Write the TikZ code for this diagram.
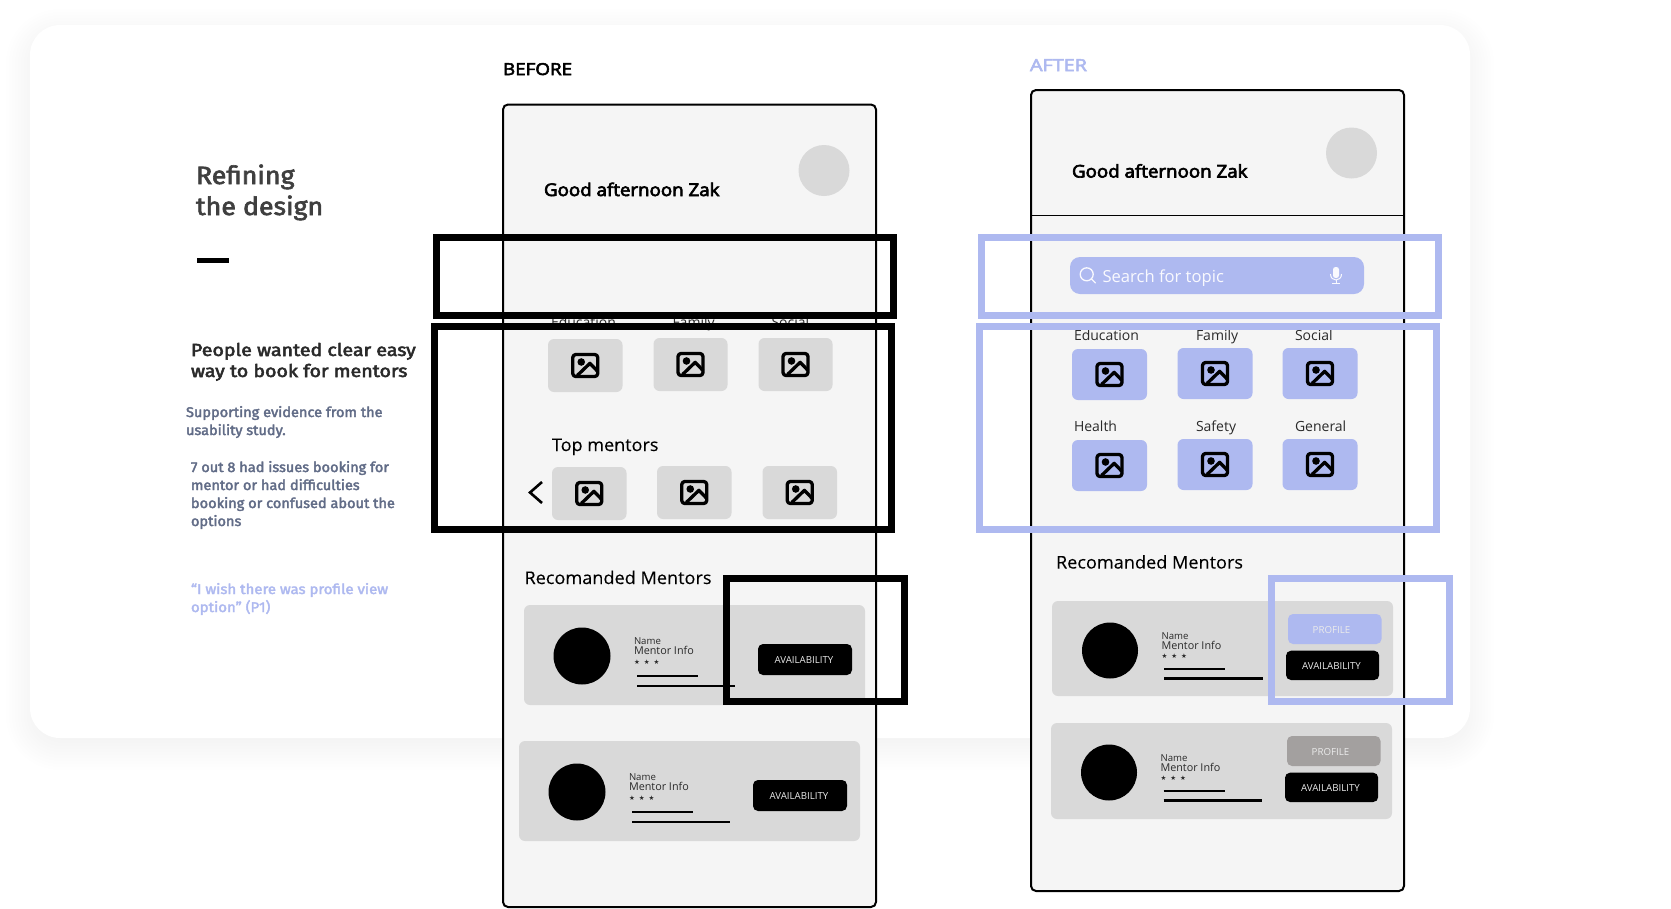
\documentclass[tikz,border=0pt]{standalone}
\usepackage{fontspec}
\setmainfont{Open Sans}
\newfontfamily\leftfont{Fira Sans}
\newfontfamily\starfont{DejaVu Sans}
\definecolor{phonebg}{HTML}{F5F5F5}
\definecolor{tilegrey}{HTML}{D9D9D9}
\definecolor{periw}{HTML}{AEB9F0}
\definecolor{slate}{HTML}{616C87}
\definecolor{profgrey}{HTML}{A3A09F}
\definecolor{inkdark}{HTML}{2A2A2A}
% width factor, outline weight, text
\newcommand\wtxt[3]{\scalebox{#1}[1]{\special{pdf:code q 2 Tr #2 w}#3\special{pdf:code Q}}}
\tikzset{
  x=1pt,y=-1pt,
  txt/.style={inner sep=0pt,outer sep=0pt,anchor=base west},
  ctxt/.style={inner sep=0pt,outer sep=0pt,anchor=center},
  phone/.style={draw=black,fill=phonebg,line width=2pt,rounded corners=5pt},
  tilestyle/.style={rounded corners=6pt},
  hlblack/.style={draw=black,line width=7pt},
  hlblue/.style={draw=periw,line width=7pt},
  lbl/.style={txt,font=\fontsize{14}{16}\selectfont,text=inkdark},
  greet/.style={txt,font=\fontsize{17.5}{20}\selectfont,text=black},
  sect/.style={txt,font=\fontsize{17.5}{20}\selectfont,text=black},
  btn/.style={ctxt,font=\fontsize{9.7}{11}\selectfont,text=white!92!black},
  nametxt/.style={txt,font=\fontsize{9.6}{11}\selectfont,text=inkdark},
  infotxt/.style={txt,font=\fontsize{10.8}{13}\selectfont,text=inkdark},
  starstxt/.style={ctxt,anchor=west,font=\starfont\fontsize{6.5}{7}\selectfont,text=inkdark},
  barline/.style={line width=2.6pt,draw=black},
  iconline/.style={draw=black,line width=3.3pt,line join=round},
  titletxt/.style={txt,font=\leftfont\fontsize{25}{28}\selectfont,text=inkdark!90!white},
  headtxt/.style={txt,font=\leftfont\fontsize{17.5}{20}\selectfont,text=inkdark},
  evid/.style={txt,font=\leftfont\fontsize{14}{16}\selectfont,text=slate},
  quot/.style={txt,font=\leftfont\fontsize{14}{16}\selectfont,text=periw},
  searchink/.style={white!92!periw},
}
\newcommand\threestars{★\hspace{4pt}★\hspace{4pt}★}
\newcommand\greeting{\wtxt{1.07}{0.65}{Good afternoon Zak}}
\newcommand\emtxt[1]{\wtxt{1.04}{0.35}{#1}}
\newcommand\imgicon[2]{%
  \begin{scope}[shift={({#1},{#2})}]
    \draw[iconline,rounded corners=3pt] (-12.5,-11) rectangle (12.5,11);
    \fill[black] (-4,-3.5) circle[radius=3.8pt];
    \draw[iconline] (-8,10) -- (4.7,-2.2) -- (12.5,6);
  \end{scope}}
\newcommand\imgtile[5]{%
  \fill[#5,tilestyle] (#1,#2) rectangle (#3,#4);
  \imgicon{(#1+#3)/2}{(#2+#4)/2}}
\begin{document}
\begin{tikzpicture}
\useasboundingbox (0,0) rectangle (1671,908);
\fill[white] (0,0) rectangle (1671,908);
% card shadow
\foreach \r in {24,21,18,15,12,9,6,3,0,-3,-6,-9}{
  \pgfmathsetmacro\rc{30+max(\r,0)}
  \fill[black,opacity=0.003,rounded corners=\rc pt] ({30-\r},{33-\r}) rectangle ({1470+\r},{746+\r});
}
\fill[white,rounded corners=30pt] (30,25) rectangle (1470,738);

% left column
\node[titletxt] (t1) at (196,184) {\wtxt{1.07}{0.6}{Refining}};
\node[titletxt] (t2) at (196,215) {\wtxt{1.07}{0.6}{the design}};
\fill[black] (197,258) rectangle (229,263);
\node[headtxt] (p1) at (191,356) {\wtxt{1.12}{0.5}{People wanted clear easy}};
\node[headtxt] (p2) at (191,377) {\wtxt{1.12}{0.5}{way to book for mentors}};
\node[evid] (e1) at (186,417) {\emtxt{Supporting evidence from the}};
\node[evid] (e2) at (186,435) {\emtxt{usability study.}};
\node[evid] (s1) at (191,472) {\emtxt{7 out 8 had issues booking for}};
\node[evid] (s2) at (191,490) {\emtxt{mentor or had difficulties}};
\node[evid] (s3) at (191,508) {\emtxt{booking or confused about the}};
\node[evid] (s4) at (191,526) {\emtxt{options}};
\node[quot] (q1) at (191,594) {\wtxt{1.07}{0.35}{“I wish there was profile view}};
\node[quot] (q2) at (191,612) {\wtxt{1.07}{0.35}{option” (P1)}};

% headings
\node[txt,font=\fontsize{16.5}{18}\selectfont,text=black] (before) at (503,75) {\wtxt{1.14}{0.5}{BEFORE}};
\node[txt,font=\fontsize{16.5}{18}\selectfont,text=periw] (after) at (1030,71) {\wtxt{1.2}{0.5}{AFTER}};

% BEFORE phone
\draw[phone] (503,104.5) rectangle (876,907);
\fill[tilegrey] (824,170.5) circle[radius=25.5pt];
\node[greet] (bgreet) at (544,196) {\greeting};
\node[lbl] (bl1) at (551,327.5) {Education};
\node[lbl] (bl2) at (672.5,327.5) {Family};
\node[lbl] (bl3) at (771.5,327.5) {Social};
\imgtile{548}{339}{622.5}{392}{tilegrey}
\imgtile{653.5}{338}{727.5}{391}{tilegrey}
\imgtile{758.5}{338}{832.5}{391}{tilegrey}
\node[sect] (btop) at (552,451) {\wtxt{1.03}{0}{Top mentors}};
\draw[black,line width=2.6pt,line join=miter] (542,482) -- (530,492.5) -- (542,503);
\imgtile{552}{467}{626.5}{520}{tilegrey}
\imgtile{657}{466}{731.5}{519}{tilegrey}
\imgtile{762.5}{466}{837}{519}{tilegrey}
\node[sect] (brec) at (524.5,584) {\wtxt{1.035}{0}{Recomanded Mentors}};
% before cards
\fill[tilegrey,tilestyle] (524,605) rectangle (865,705);
\fill[black] (582,656) circle[radius=28.5pt];
\node[nametxt] (bn1) at (634,644) {Name};
\node[infotxt] (bi1) at (634,654) {Mentor Info};
\node[starstxt] (bs1) at (634,662.5) {\threestars};
\draw[barline] (637,676) -- (698,676);
\draw[barline] (637,686) -- (735,686);
\fill[black,rounded corners=5pt] (758,644) rectangle (852,675);
\node[btn] (bb1) at (804,660) {AVAILABILITY};
\fill[tilegrey,tilestyle] (519,741) rectangle (860,841);
\fill[black] (577,792) circle[radius=28.5pt];
\node[nametxt] (bn2) at (629,780) {Name};
\node[infotxt] (bi2) at (629,790) {Mentor Info};
\node[starstxt] (bs2) at (629,798.5) {\threestars};
\draw[barline] (632,812) -- (693,812);
\draw[barline] (632,822) -- (730,822);
\fill[black,rounded corners=5pt] (753,780) rectangle (847,811);
\node[btn] (bb2) at (799,796) {AVAILABILITY};

% AFTER phone
\draw[phone] (1031,90) rectangle (1404,891);
\draw[black,line width=1pt] (1031,215.5) -- (1404,215.5);
\fill[tilegrey] (1351.5,153) circle[radius=25.5pt];
\node[greet] (agreet) at (1072,177.5) {\greeting};
% search bar
\fill[periw,rounded corners=10pt] (1070,257) rectangle (1364,294);
\draw[searchink,line width=1.3pt] (1086.7,274.3) circle[radius=6.5pt];
\draw[searchink,line width=1.3pt,line cap=round] (1091.5,279) -- (1095.5,283);
\node[txt,font=\fontsize{16.6}{19}\selectfont,text=white!92!periw] (asearch) at (1102.5,282) {Search for topic};
\fill[searchink,rounded corners=2.5pt] (1333,267) rectangle (1339,278);
\draw[searchink,line width=1pt] (1330.5,274) .. controls (1330.5,282) and (1341.5,282) .. (1341.5,274);
\draw[searchink,line width=1pt] (1336,280) -- (1336,283) (1332,283) -- (1340,283);
% categories
\node[lbl] (al1) at (1074,340) {Education};
\node[lbl] (al2) at (1196,340) {Family};
\node[lbl] (al3) at (1295,340) {Social};
\imgtile{1072}{349}{1147}{400}{periw}
\imgtile{1177.5}{348}{1252.5}{399}{periw}
\imgtile{1282.5}{348}{1357.5}{399}{periw}
\node[lbl] (al4) at (1074,431) {Health};
\node[lbl] (al5) at (1196,431) {Safety};
\node[lbl] (al6) at (1295,431) {General};
\imgtile{1072}{440}{1147}{491}{periw}
\imgtile{1177.5}{439}{1252.5}{490}{periw}
\imgtile{1282.5}{439}{1357.5}{490}{periw}
\node[sect] (arec) at (1056,568.5) {\wtxt{1.035}{0}{Recomanded Mentors}};
% after cards
\fill[tilegrey,tilestyle] (1052,601) rectangle (1393,696);
\fill[black] (1110,650.5) circle[radius=28pt];
\node[nametxt] (an1) at (1161.5,639) {Name};
\node[infotxt] (ai1) at (1161.5,649) {Mentor Info};
\node[starstxt] (as1) at (1161.5,656.5) {\threestars};
\draw[barline] (1164,669) -- (1225,669);
\draw[barline] (1164,678.7) -- (1263,678.7);
\fill[periw,rounded corners=5pt] (1288,614) rectangle (1381.5,644);
\node[btn] (ap1) at (1331.5,629.7) {PROFILE};
\fill[black,rounded corners=5pt] (1286,650.7) rectangle (1379.2,680);
\node[btn] (ab1) at (1331.5,666.5) {AVAILABILITY};
\fill[tilegrey,tilestyle] (1051,723) rectangle (1392,819);
\fill[black] (1109,772.5) circle[radius=28pt];
\node[nametxt] (an2) at (1160.5,761) {Name};
\node[infotxt] (ai2) at (1160.5,771) {Mentor Info};
\node[starstxt] (as2) at (1160.5,778.5) {\threestars};
\draw[barline] (1163.5,791) -- (1224.5,791);
\draw[barline] (1163.5,800.7) -- (1262,800.7);
\fill[profgrey,rounded corners=5pt] (1287,736) rectangle (1380.5,766);
\node[btn] (ap2) at (1330.5,752) {PROFILE};
\fill[black,rounded corners=5pt] (1285,772.7) rectangle (1378.2,802);
\node[btn] (ab2) at (1330.5,788.5) {AVAILABILITY};

% highlight frames
\draw[hlblack] (436.5,237.5) rectangle (893.5,315.5);
\draw[hlblack] (434.5,326.5) rectangle (891.5,529.5);
\draw[hlblack] (726.5,578.5) rectangle (904.5,701.5);
\draw[hlblue] (981.5,237.5) rectangle (1438.5,315.5);
\draw[hlblue] (979.5,326.5) rectangle (1436.5,529.5);
\draw[hlblue] (1271.5,578.5) rectangle (1449.5,701.5);
\end{tikzpicture}
\end{document}
